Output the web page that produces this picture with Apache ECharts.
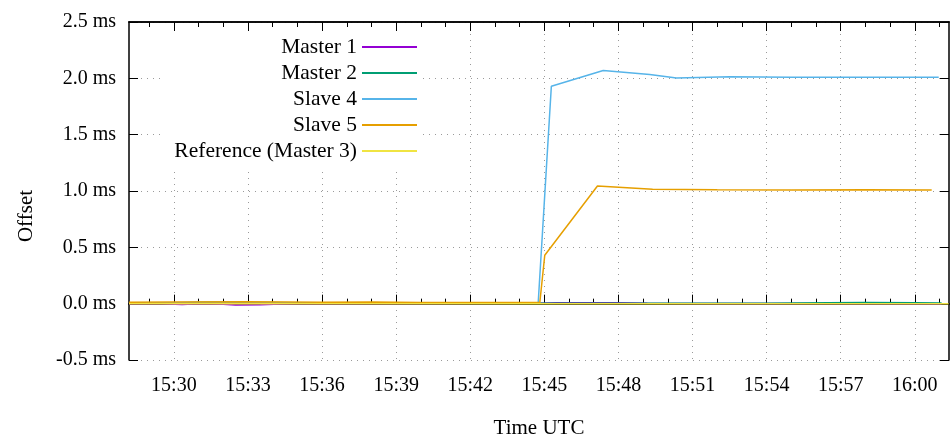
<!DOCTYPE html>
<html>
<head>
<meta charset="utf-8">
<script src="https://cdn.jsdelivr.net/npm/echarts@6/dist/echarts.min.js"></script>
<style>
html,body{margin:0;padding:0;background:#fff;}
#chart{width:952px;height:439px;}
</style>
</head>
<body>
<div id="chart"></div>
<script>
// ---- data (times UTC, offsets in ms) ----
const seriesNames = ['Master 1', 'Master 2', 'Slave 4', 'Slave 5', 'Reference (Master 3)'];
const seriesColors = ['#9400d3', '#009e73', '#56b4e9', '#e69f00', '#f0e442'];

const master1Times  = ['15:28:11','15:29:30','15:30:20','15:31:00','15:32:00','15:32:30','15:33:30','15:34:20','15:35:00','15:40:00','15:44:50','15:45:30','15:48:00','15:49:10','15:52:00','15:56:00','16:01:05'];
const master1Values = [0.000, 0.000, -0.008, 0.000, -0.005, -0.012, -0.010, -0.003, 0.000, 0.002, 0.003, 0.008, 0.008, 0.004, 0.002, 0.001, 0.000];

const master2Times  = ['15:28:11','15:30:00','15:31:30','15:33:00','15:35:00','15:38:00','15:42:00','15:45:00','15:50:00','15:54:00','15:56:30','15:58:00','16:00:00','16:01:05'];
const master2Values = [0.004, 0.006, 0.012, 0.010, 0.008, 0.006, 0.005, 0.004, 0.004, 0.004, 0.008, 0.010, 0.008, 0.006];

const slave4Times  = ['15:28:11','15:30:00','15:31:00','15:33:00','15:36:00','15:40:00','15:44:45','15:45:17','15:47:23','15:49:16','15:50:21','15:52:30','15:55:00','15:58:00','16:00:58'];
const slave4Values = [0.005, 0.008, 0.012, 0.010, 0.008, 0.006, 0.005, 1.93, 2.07, 2.035, 2.003, 2.015, 2.01, 2.01, 2.01];

const slave5Times  = ['15:28:11','15:30:00','15:33:00','15:36:00','15:38:00','15:40:00','15:44:49','15:45:01','15:47:09','15:49:23','15:52:00','15:55:00','15:58:00','16:00:41'];
const slave5Values = [0.012, 0.014, 0.016, 0.012, 0.014, 0.010, 0.010, 0.43, 1.045, 1.015, 1.010, 1.008, 1.010, 1.008];

const referenceTimes  = ['15:28:11','15:40:00','15:50:00','16:01:22'];
const referenceValues = [0.0, 0.0, 0.0, 0.0];

const xTickLabels = ['15:30','15:33','15:36','15:39','15:42','15:45','15:48','15:51','15:54','15:57','16:00'];
const yTickValues = [-0.5, 0.0, 0.5, 1.0, 1.5, 2.0, 2.5];

const xRangeStart = '15:28:11';
const xRangeEnd = '16:01:23';

// ---- helpers ----
function toMin(t) {
  const p = t.split(':').map(Number);
  return (p[0] - 15) * 60 + p[1] + (p[2] || 0) / 60;
}
function pairs(times, values) {
  return times.map((t, i) => [toMin(t), values[i]]);
}
function fmtTime(v) {
  const total = Math.round(v);
  const h = 15 + Math.floor(total / 60);
  const m = total % 60;
  return h + ':' + (m < 10 ? '0' : '') + m;
}
const xMin = toMin(xRangeStart);
const xMax = toMin(xRangeEnd);
const majorValues = xTickLabels.map(s => toMin(s + ':00'));
const minorValues = [];
for (let m = Math.ceil(xMin); m <= Math.floor(xMax); m++) minorValues.push(m);
const yMin = yTickValues[0];
const yMax = yTickValues[yTickValues.length - 1];
const yStep = yTickValues[1] - yTickValues[0];

const FONT = 'Liberation Serif';
const gridDots = { color: '#9a9a9a', width: 1, type: [1, 5] };
const border = { show: true, lineStyle: { color: '#000', width: 1.5 } };

function xAxisDef(position, major, showLabels) {
  const vals = major ? majorValues : minorValues;
  return {
    type: 'value', position: position, min: xMin, max: xMax,
    axisLine: border,
    axisTick: { show: true, inside: true, length: major ? 9 : 5, customValues: vals, lineStyle: { color: '#000', width: 1 } },
    axisLabel: {
      show: showLabels, margin: 16, color: '#000', fontFamily: FONT, fontSize: 20,
      customValues: vals,
      formatter: v => fmtTime(v)
    },
    splitLine: { show: major && position === 'bottom', lineStyle: gridDots },
    name: (position === 'bottom' && major) ? 'Time UTC' : '',
    nameLocation: 'middle', nameGap: 58,
    nameTextStyle: { color: '#000', fontFamily: FONT, fontSize: 21 }
  };
}

const series = [
  pairs(master1Times, master1Values),
  pairs(master2Times, master2Values),
  pairs(slave4Times, slave4Values),
  pairs(slave5Times, slave5Values),
  pairs(referenceTimes, referenceValues)
].map((d, i) => ({
  name: seriesNames[i], type: 'line', data: d, symbol: 'none', showSymbol: false,
  xAxisIndex: 0, yAxisIndex: 0, animation: false,
  lineStyle: { color: seriesColors[i], width: 1.5 },
  itemStyle: { color: seriesColors[i] },
  z: 2 + i
}));

const chart = echarts.init(document.getElementById('chart'), null, { renderer: 'canvas' });
chart.setOption({
  animation: false,
  backgroundColor: '#fff',
  grid: { left: 129, right: 3, top: 22, bottom: 79, containLabel: false, outerBoundsMode: 'none' },
  legend: {
    data: seriesNames, orient: 'vertical', align: 'right',
    icon: 'rect',
    right: 530, top: 31, padding: [5, 5, 5, 10], itemGap: 4,
    itemWidth: 55, itemHeight: 2,
    backgroundColor: '#fff',
    textStyle: { color: '#000', fontFamily: FONT, fontSize: 21.5, lineHeight: 20 },
    selectedMode: false
  },
  xAxis: [
    xAxisDef('bottom', true, true),
    xAxisDef('bottom', false, false),
    xAxisDef('top', true, false),
    xAxisDef('top', false, false)
  ],
  yAxis: [
    {
      type: 'value', position: 'left', min: yMin, max: yMax, interval: yStep,
      axisLine: border,
      axisTick: { show: true, inside: true, length: 9, lineStyle: { color: '#000', width: 1 } },
      axisLabel: { margin: 13, color: '#000', fontFamily: FONT, fontSize: 20, formatter: v => v.toFixed(1) + ' ms' },
      splitLine: { show: true, lineStyle: gridDots },
      name: 'Offset', nameLocation: 'middle', nameGap: 92,
      nameTextStyle: { color: '#000', fontFamily: FONT, fontSize: 21, padding: [0, 50, 0, 0] }
    },
    {
      type: 'value', position: 'right', min: yMin, max: yMax, interval: yStep,
      axisLine: border,
      axisTick: { show: true, inside: true, length: 9, lineStyle: { color: '#000', width: 1 } },
      axisLabel: { show: false },
      splitLine: { show: false }
    }
  ],
  series: series
});
</script>
</body>
</html>
